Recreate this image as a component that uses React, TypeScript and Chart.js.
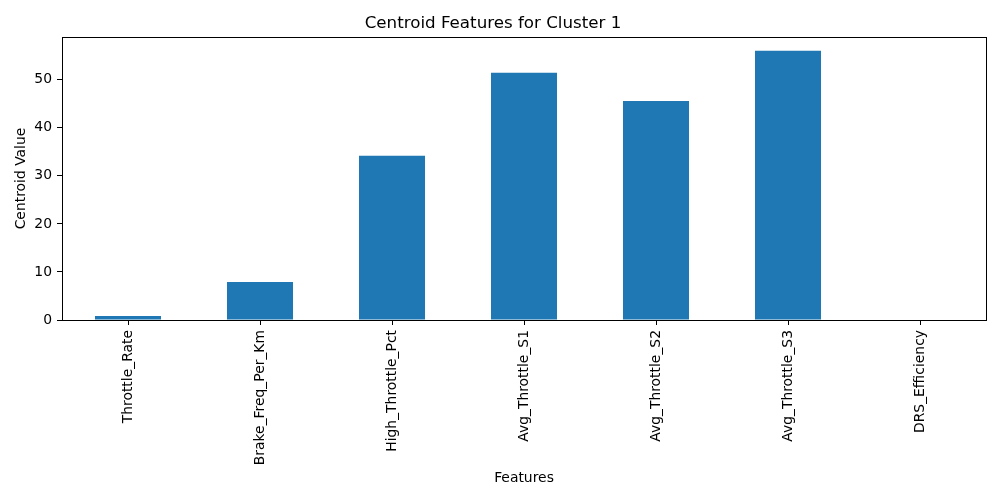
import React, { useEffect, useRef } from "react";
import { Chart, registerables } from "chart.js";

Chart.register(...registerables);

const categories = [
  "Throttle_Rate",
  "Brake_Freq_Per_Km",
  "High_Throttle_Pct",
  "Avg_Throttle_S1",
  "Avg_Throttle_S2",
  "Avg_Throttle_S3",
  "DRS_Efficiency",
];
const centroidValues = [0.83, 7.92, 34.17, 51.46, 45.6, 56.04, 0.0];
const yTicks = [0, 10, 20, 30, 40, 50];

const FONT = "'DejaVu Sans', sans-serif";

const boxPlugin = {
  id: "box",
  afterDraw(chart: any) {
    const { ctx, chartArea } = chart;
    ctx.save();
    ctx.strokeStyle = "#000";
    ctx.lineWidth = 1;
    ctx.strokeRect(
      Math.round(chartArea.left) + 0.5,
      Math.round(chartArea.top) + 0.5,
      Math.round(chartArea.right - chartArea.left),
      Math.round(chartArea.bottom - chartArea.top)
    );
    ctx.restore();
  },
};

export default function App() {
  const ref = useRef<HTMLCanvasElement>(null);
  useEffect(() => {
    if (!ref.current) return;
    const chart = new Chart(ref.current, {
      type: "bar",
      data: {
        labels: categories,
        datasets: [
          {
            data: centroidValues,
            backgroundColor: "#1f77b4",
            borderWidth: 0,
            barPercentage: 0.5,
            categoryPercentage: 1,
          },
        ],
      },
      options: {
        animation: false,
        responsive: false,
        layout: { padding: { left: 0, right: 14, top: 0, bottom: 0 } },
        plugins: {
          legend: { display: false },
          tooltip: { enabled: false },
          title: {
            display: true,
            text: "Centroid Features for Cluster 1",
            color: "#000",
            font: { family: FONT, size: 16.7, weight: "normal" },
            padding: { top: 14, bottom: 3 },
          },
        },
        scales: {
          x: {
            offset: true,
            grid: {
              display: true,
              drawOnChartArea: false,
              drawTicks: true,
              tickLength: 5,
              color: "#000",
              offset: false,
            },
            border: { display: false },
            ticks: {
              color: "#000",
              font: { family: FONT, size: 13.9 },
              minRotation: 90,
              maxRotation: 90,
              padding: 5,
              autoSkip: false,
            },
            title: {
              display: true,
              text: "Features",
              color: "#000",
              font: { family: FONT, size: 13.9 },
              padding: { top: 13, bottom: 13 },
            },
            afterFit(scale: any) {
              scale.height = 180;
            },
          },
          y: {
            min: 0,
            max: 58.9,
            grid: {
              display: true,
              drawOnChartArea: false,
              drawTicks: true,
              tickLength: 5,
              color: "#000",
            },
            border: { display: false },
            afterBuildTicks(scale: any) {
              scale.ticks = yTicks.map((v) => ({ value: v }));
            },
            ticks: {
              color: "#000",
              font: { family: FONT, size: 13.9 },
              padding: 5,
            },
            title: {
              display: true,
              text: "Centroid Value",
              color: "#000",
              font: { family: FONT, size: 13.9 },
              padding: { top: 12.7, bottom: 12.7 },
            },
            afterFit(scale: any) {
              scale.width = 62;
            },
          },
        },
      },
      plugins: [boxPlugin],
    } as any);
    return () => chart.destroy();
  }, []);
  return (
    <div style={{ position: "absolute", left: 0, top: 0, width: 1000, height: 500, background: "#fff" }}>
      <canvas ref={ref} width={1000} height={500} style={{ width: 1000, height: 500 }} />
    </div>
  );
}
